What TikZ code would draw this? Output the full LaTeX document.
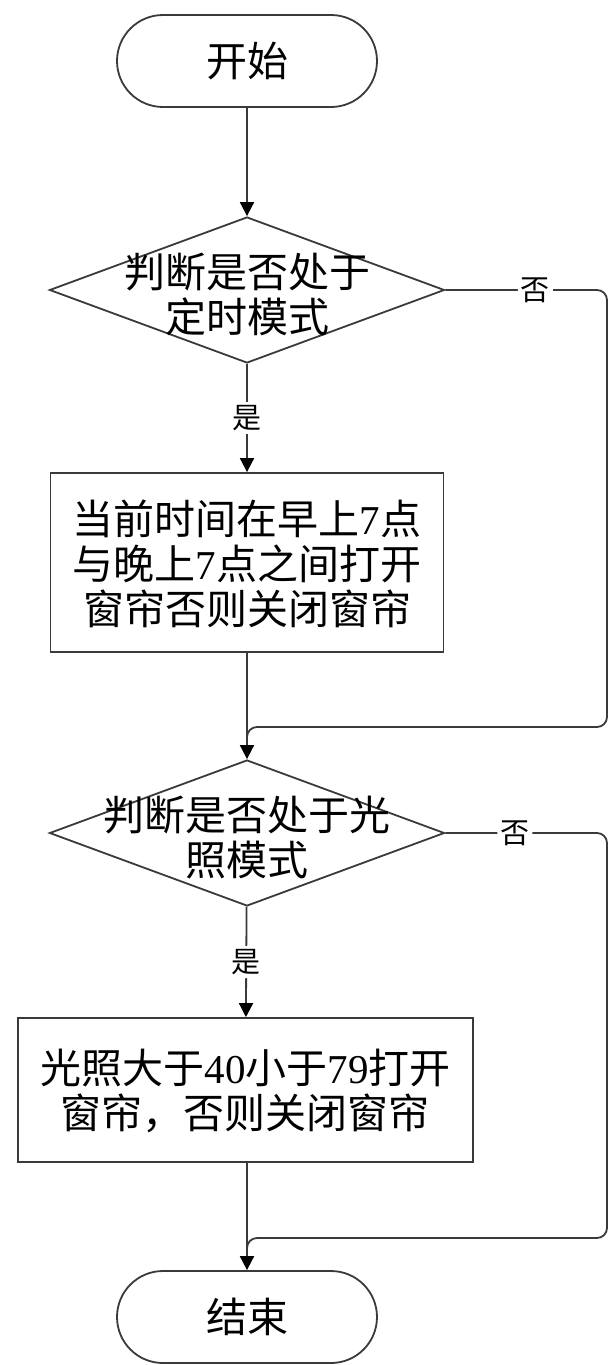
\documentclass[tikz,border=0pt]{standalone}
\usepackage{fontspec}
\setmainfont{Liberation Serif}
\newfontfamily\cjk{Noto Sans CJK SC}
\usetikzlibrary{arrows.meta,shapes.geometric}
\newcommand\bigf{\fontsize{41pt}{45pt}\selectfont\cjk}
\newcommand\smallf{\fontsize{29pt}{32pt}\selectfont\cjk}
\newcommand\dg[1]{{\rmfamily #1}}
\definecolor{lc}{HTML}{3A3A3A}
\begin{document}
\begin{tikzpicture}[x=1pt,y=-1pt,
  line width=1.8pt,
  term/.style={draw=lc, rounded corners=46pt, minimum width=260pt, minimum height=92pt, inner sep=0pt, font=\bigf},
  dia/.style={draw=lc, shape=diamond, minimum width=395pt, minimum height=146pt, inner sep=0pt},
  proc/.style={draw=lc, rectangle, inner sep=0pt},
  txt/.style={align=center, font=\bigf, inner sep=0pt},
  lbl/.style={fill=white, font=\smallf, inner sep=3pt},
  arr/.style={draw=lc, -{Triangle[length=14pt,width=14pt,color=black]}},
  link/.style={draw=lc, rounded corners=10pt}
]
\path[use as bounding box, fill=white] (0,0) rectangle (611,1365);

\node[term] (start) at (247,61) {开始};
\node[dia] (d1) at (247,290) {};
\node[txt] (t1) at (247,294) {判断是否处于\\定时模式};
\node[proc, minimum width=393pt, minimum height=179pt] (p1) at (247,562.5) {};
\node[txt] (tp1) at (247,564) {当前时间在早上\dg{7}点\\与晚上\dg{7}点之间打开\\窗帘否则关闭窗帘};
\node[dia] (d2) at (247,833) {};
\node[txt] (t2) at (247,837) {判断是否处于光\\照模式};
\node[proc, minimum width=455pt, minimum height=144pt] (p2) at (245.5,1090) {};
\node[txt] (tp2) at (245.5,1091) {光照大于\dg{40}小于\dg{79}打开\\窗帘，否则关闭窗帘};
\node[term] (end) at (247,1317) {结束};

\coordinate (r1) at (607,290);
\coordinate (r1b) at (607,727);
\coordinate (m1) at (247,727);
\coordinate (m1b) at (247,745);
\coordinate (r2) at (607,833);
\coordinate (r2b) at (607,1238);
\coordinate (m2) at (247,1238);
\coordinate (m2b) at (247,1256);

\draw[arr] (start) -- (d1);
\draw[arr] (d1) -- node[lbl]{是} (p1);
\draw[arr] (p1) -- (d2);
\draw[arr] (d2) -- node[lbl]{是} (p2);
\draw[arr] (p2.south -| end) -- (end);

\draw[link] (d1.east) -- node[lbl,pos=0.556]{否} (r1) -- (r1b) -- (m1) -- (m1b);
\draw[link] (d2.east) -- node[lbl,pos=0.43]{否} (r2) -- (r2b) -- (m2) -- (m2b);
\end{tikzpicture}
\end{document}
